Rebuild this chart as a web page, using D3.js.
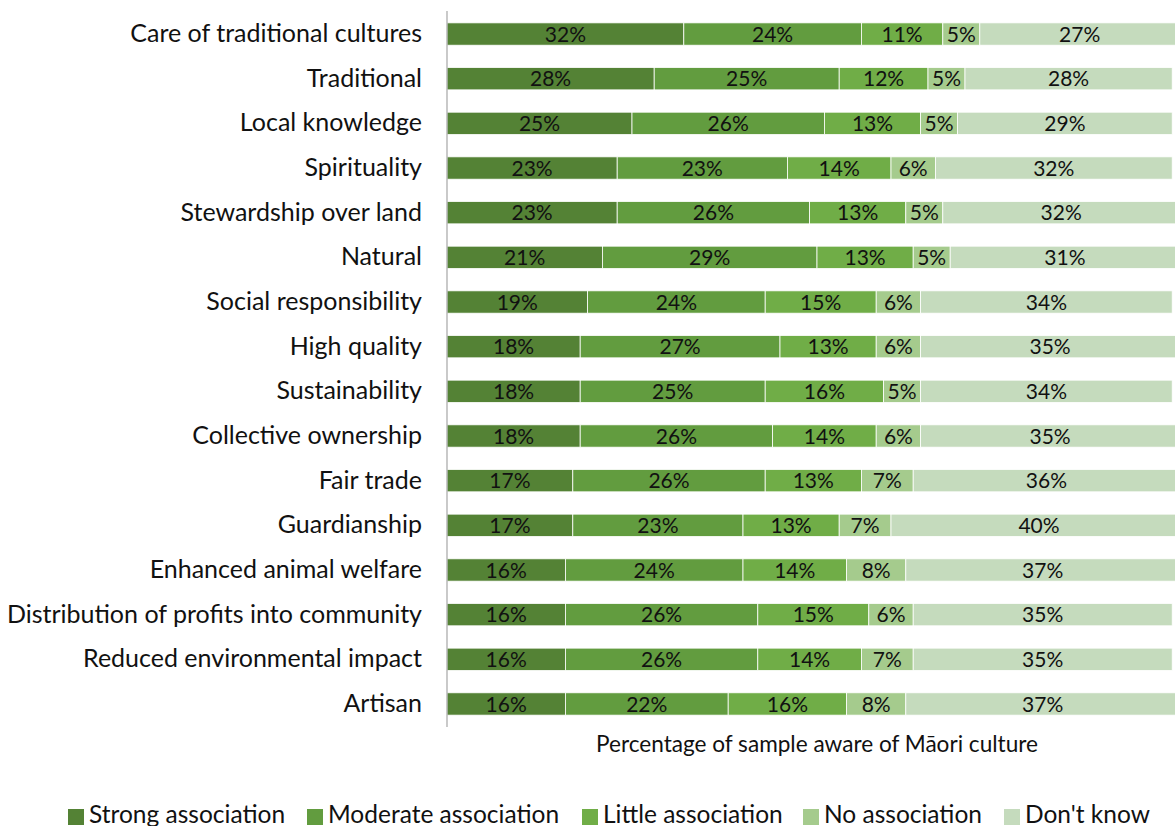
<!DOCTYPE html>
<html>
<head>
<meta charset="utf-8">
<script src="https://cdn.jsdelivr.net/npm/d3@7"></script>
<style>
  html, body { margin: 0; padding: 0; background: #fff; }
  svg { display: block; font-family: Lato, "Open Sans", sans-serif; }
</style>
</head>
<body>
<svg id="chart" width="1175" height="826"></svg>
<script>
// Attributes, top to bottom
const categories = [
  "Care of traditional cultures", "Traditional", "Local knowledge", "Spirituality",
  "Stewardship over land", "Natural", "Social responsibility", "High quality",
  "Sustainability", "Collective ownership", "Fair trade", "Guardianship",
  "Enhanced animal welfare", "Distribution of profits into community",
  "Reduced environmental impact", "Artisan"
];

// Share of respondents (%) per response level
const strong   = [32, 28, 25, 23, 23, 21, 19, 18, 18, 18, 17, 17, 16, 16, 16, 16];
const moderate = [24, 25, 26, 23, 26, 29, 24, 27, 25, 26, 26, 23, 24, 26, 26, 22];
const little   = [11, 12, 13, 14, 13, 13, 15, 13, 16, 14, 13, 13, 14, 15, 14, 16];
const noAssoc  = [ 5,  5,  5,  6,  5,  5,  6,  6,  5,  6,  7,  7,  8,  6,  7,  8];
const dontKnow = [27, 28, 29, 32, 32, 31, 34, 35, 34, 35, 36, 40, 37, 35, 35, 37];

const seriesNames = ["Strong association", "Moderate association", "Little association", "No association", "Don't know"];
const seriesValues = [strong, moderate, little, noAssoc, dontKnow];
const colors = ["#548235", "#629c3f", "#70ad47", "#a5cb8d", "#c5dbbd"];

const axisTitle = "Percentage of sample aware of Māori culture";

const svg = d3.select("#chart");

const rows = categories.map((c, i) => {
  const r = { category: c };
  seriesNames.forEach((s, k) => r[s] = seriesValues[k][i]);
  return r;
});

const stacked = d3.stack().keys(seriesNames)(rows);

const x = d3.scaleLinear().domain([0, 100]).range([447, 1187]);
const y = d3.scaleBand().domain(categories).range([11.7, 726.3]).paddingInner(0.5).paddingOuter(0.25);
const color = d3.scaleOrdinal().domain(seriesNames).range(colors);

// Bars
const layers = svg.append("g").selectAll("g")
  .data(stacked).join("g")
  .attr("fill", d => color(d.key));

layers.selectAll("rect")
  .data(d => d)
  .join("rect")
  .attr("x", d => x(d[0]))
  .attr("y", d => y(d.data.category))
  .attr("width", d => x(d[1]) - x(d[0]))
  .attr("height", y.bandwidth())
  .attr("stroke", "#ffffff")
  .attr("stroke-width", 0.8);

// Value labels
layers.selectAll("text")
  .data(d => d)
  .join("text")
  .attr("x", d => (x(d[0]) + x(d[1])) / 2)
  .attr("y", d => y(d.data.category) + y.bandwidth() / 2)
  .attr("dy", "0.36em")
  .attr("text-anchor", "middle")
  .attr("font-size", 21)
  .attr("fill", "#111")
  .text(d => (d[1] - d[0]) + "%");

// Category axis
const yAxis = svg.append("g")
  .attr("transform", `translate(${x(0)},0)`)
  .call(d3.axisLeft(y).tickSize(0).tickPadding(25));
yAxis.select(".domain").attr("stroke", "#a6a6a6").attr("stroke-width", 1.2)
  .attr("d", `M0,11V727`);
yAxis.selectAll("text").attr("font-size", 25).attr("fill", "#111")
  .attr("font-family", "Lato, sans-serif");

// Axis title
svg.append("text")
  .attr("x", 817).attr("y", 752)
  .attr("text-anchor", "middle")
  .attr("font-size", 22.6)
  .attr("fill", "#111")
  .text(axisTitle);

// Legend
const legendX = [68, 307, 582, 803, 1004];
const legend = svg.append("g").selectAll("g")
  .data(seriesNames).join("g")
  .attr("transform", (d, i) => `translate(${legendX[i]},809)`);
legend.append("rect").attr("width", 16).attr("height", 16).attr("fill", d => color(d));
legend.append("text")
  .attr("x", 21).attr("y", 14)
  .attr("font-size", 24.5).attr("fill", "#111")
  .text(d => d);
</script>
</body>
</html>
